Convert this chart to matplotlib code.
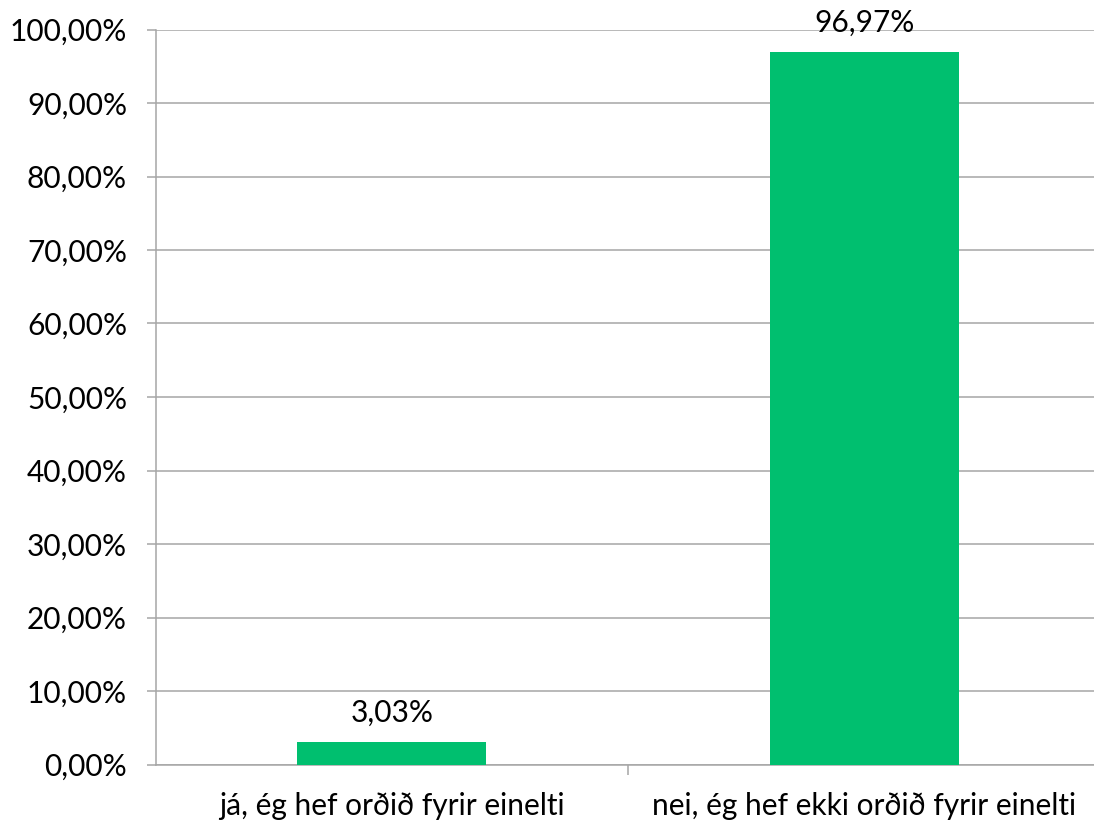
import matplotlib
matplotlib.use("Agg")
import matplotlib.pyplot as plt
from matplotlib.ticker import FuncFormatter

categories = ["já, ég hef orðið fyrir einelti", "nei, ég hef ekki orðið fyrir einelti"]
values = [3.03, 96.97]
value_labels = ["3,03%", "96,97%"]
yticks = [0, 10, 20, 30, 40, 50, 60, 70, 80, 90, 100]

plt.rcParams['font.family'] = ['Lato', 'DejaVu Sans']

fig = plt.figure(figsize=(10.94, 8.23), dpi=100)
W, H = 1094, 823
left, right, top, bottom = 155.5, 1100.5, 29.5, 764.5
ax = fig.add_axes([left / W, 1 - bottom / H, (right - left) / W, (bottom - top) / H])

green = "#00BF6F"
grid = "#A6A6A6"
x = list(range(len(categories)))
bars = ax.bar(x, values, width=0.4, color=green, zorder=3)

ax.set_xlim(-0.5, 1.5)
ax.set_ylim(0, 100)
ax.set_yticks(yticks)
ax.yaxis.set_major_formatter(FuncFormatter(lambda v, p: f"{v:.2f}".replace(".", ",") + "%"))
ax.yaxis.grid(True, color=grid, linewidth=1.1, zorder=0)
ax.set_axisbelow(True)

ax.set_xticks([0.5])
ax.set_xticklabels([""])
for i, c in enumerate(categories):
    ax.text(i, -5.7, c, ha="center", va="center", fontsize=21.5, color="black")

for s in ["top", "right"]:
    ax.spines[s].set_visible(False)
for s in ["left", "bottom"]:
    ax.spines[s].set_color(grid)
    ax.spines[s].set_linewidth(1.1)

ax.tick_params(axis="y", length=6.5, width=1.1, color=grid, labelsize=21.5, pad=14)
ax.tick_params(axis="x", length=7, width=1.1, color=grid)

for xi, v, lab in zip(x, values, value_labels):
    ax.text(xi, v + 4.0, lab, ha="center", va="center", fontsize=21.5, color="black")

fig.savefig("out.png", dpi=100)
